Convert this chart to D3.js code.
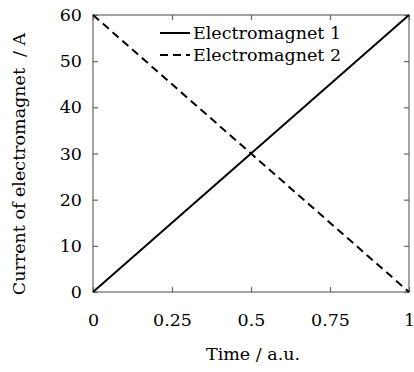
<!DOCTYPE html>
<html><head><meta charset="utf-8">
<script src="https://cdn.jsdelivr.net/npm/d3@7"></script>
<style>body{margin:0;background:#fff}svg text{font-family:"DejaVu Serif",serif;fill:#000}</style>
</head><body><svg id="c" width="414" height="372"></svg>
<script>
const times = [0, 1];
const magnet1 = [0, 60];
const magnet2 = [60, 0];
const xTicks = [0, 0.25, 0.5, 0.75, 1];
const xTickLabels = ["0", "0.25", "0.5", "0.75", "1"];
const yTicks = [0, 10, 20, 30, 40, 50, 60];
const seriesNames = ["Electromagnet 1", "Electromagnet 2"];

const svg = d3.select("#c");
const m = {l: 93, r: 409, t: 15, b: 292};
const x = d3.scaleLinear().domain([0, 1]).range([m.l, m.r]);
const y = d3.scaleLinear().domain([0, 60]).range([m.b, m.t]);
const fs = 17.5;
const frameColor = "#666";

svg.append("rect").attr("x", m.l).attr("y", m.t).attr("width", m.r - m.l).attr("height", m.b - m.t)
  .attr("fill", "none").attr("stroke", frameColor).attr("stroke-width", 1.2);

const tl = 5;
const xb = svg.append("g").attr("transform", `translate(0,${m.b})`)
  .call(d3.axisBottom(x).tickValues(xTicks).tickSize(-tl).tickFormat((d, i) => xTickLabels[i]).tickPadding(22));
const xt = svg.append("g").attr("transform", `translate(0,${m.t})`)
  .call(d3.axisTop(x).tickValues(xTicks).tickSize(-tl).tickFormat(""));
const yl = svg.append("g").attr("transform", `translate(${m.l},0)`)
  .call(d3.axisLeft(y).tickValues(yTicks).tickSize(-tl).tickPadding(11));
const yr = svg.append("g").attr("transform", `translate(${m.r},0)`)
  .call(d3.axisRight(y).tickValues(yTicks).tickSize(-tl).tickFormat(""));
[xb, xt, yl, yr].forEach(g => {
  g.select(".domain").remove();
  g.selectAll("line").attr("stroke", frameColor).attr("stroke-width", 1.2);
  g.selectAll("text").style("font-size", fs + "px").attr("fill", "#000").style("font-family", '"DejaVu Serif",serif');
});

const line = d3.line().x(d => x(d[0])).y(d => y(d[1]));
const s1 = times.map((t, i) => [t, magnet1[i]]);
const s2 = times.map((t, i) => [t, magnet2[i]]);
svg.append("path").attr("d", line(s1)).attr("fill", "none").attr("stroke", "#000").attr("stroke-width", 2);
svg.append("path").attr("d", line(s2)).attr("fill", "none").attr("stroke", "#000").attr("stroke-width", 2).attr("stroke-dasharray", "8,5");

const leg = [{n: seriesNames[0], dash: null, yy: 33}, {n: seriesNames[1], dash: "8,5", yy: 55}];
leg.forEach(d => {
  svg.append("line").attr("x1", 160).attr("x2", 190).attr("y1", d.yy).attr("y2", d.yy)
    .attr("stroke", "#000").attr("stroke-width", 2).attr("stroke-dasharray", d.dash);
  svg.append("text").attr("x", 193).attr("y", d.yy).attr("dy", "0.35em").style("font-size", fs + "px").text(d.n);
});

svg.append("text").attr("x", 253).attr("y", 360).attr("text-anchor", "middle")
  .style("font-size", fs + "px").text("Time / a.u.");
svg.append("text").attr("transform", `translate(25,164) rotate(-90)`).attr("text-anchor", "middle")
  .style("font-size", fs + "px").style("white-space", "pre").text("Current of electromagnet  / A");
</script></body></html>
